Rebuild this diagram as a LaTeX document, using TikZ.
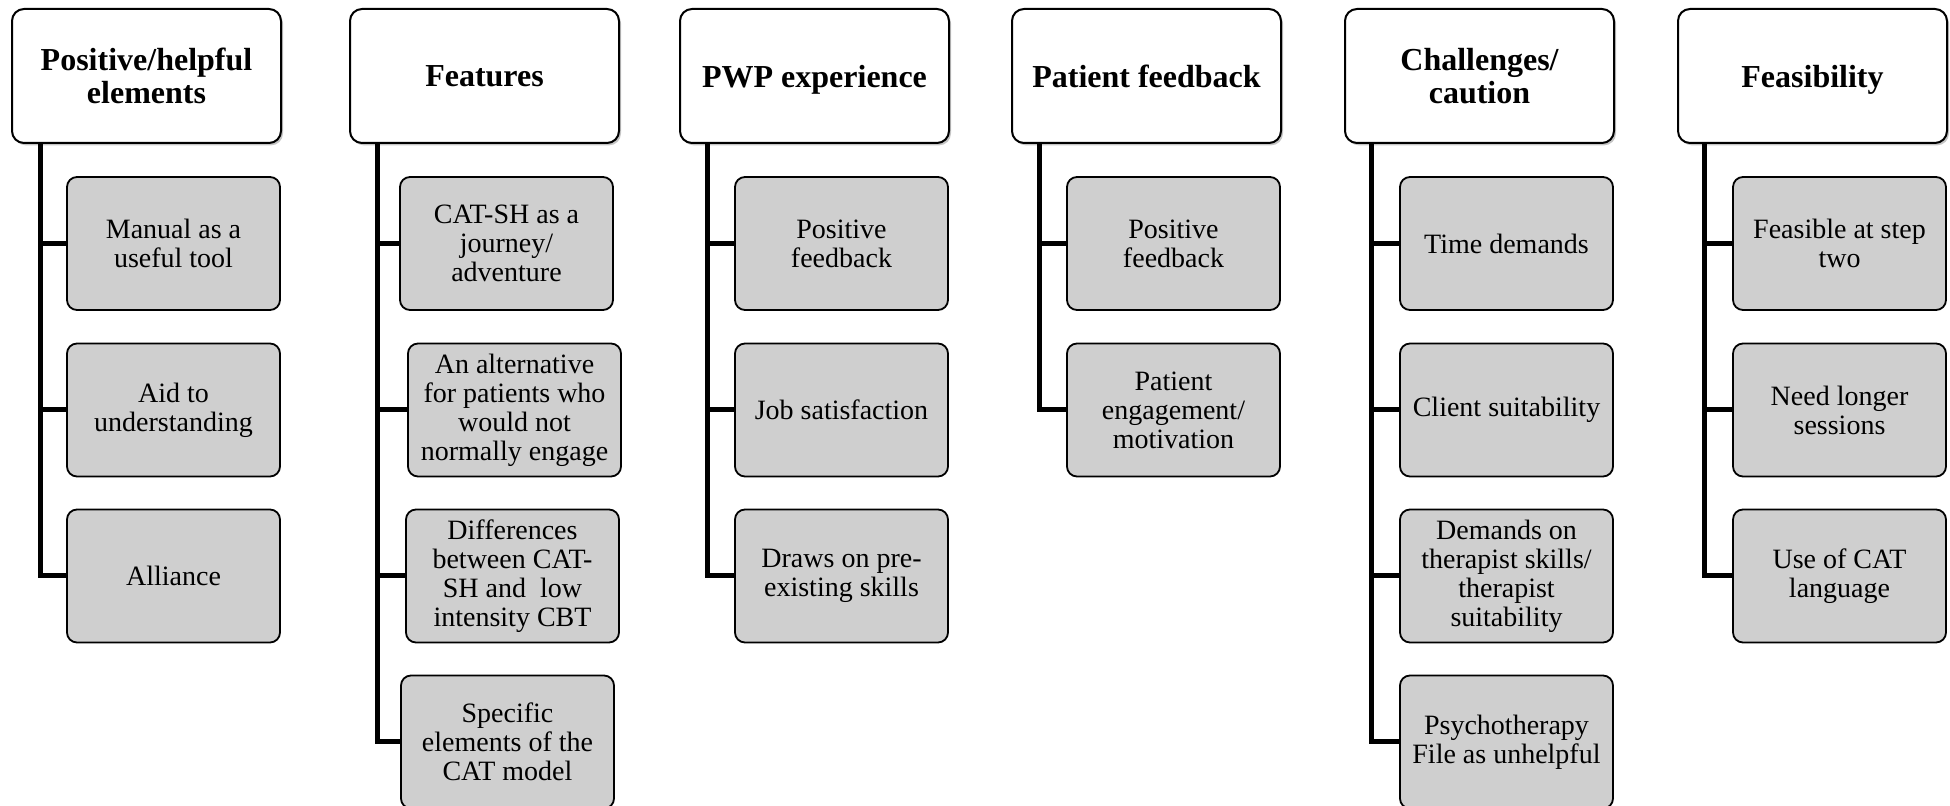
\documentclass[tikz,border=0pt]{standalone}
\usepackage{fontspec}
\setmainfont{Liberation Serif}
\usetikzlibrary{shadows}

\begin{document}
\begin{tikzpicture}[x=0.5pt, y=-0.5pt,
  theme/.style = {draw, fill = white, rounded corners = 6pt, line width = 1pt,
    minimum width = 134.5pt, minimum height = 67pt, align = center,
    font = \fontsize{16}{16.5}\selectfont\bfseries, inner sep = 2pt, text depth = 0pt,
    drop shadow = {shadow xshift = 1pt, shadow yshift = -1.2pt, fill = black!45, opacity = 0.5}},
  subtheme/.style = {draw, fill = black!19, rounded corners = 5pt, line width = 0.9pt,
    minimum width = 106.5pt, minimum height = 66.5pt, align = center,
    font = \fontsize{14}{14.5}\selectfont, inner sep = 1pt},
  trunk/.style = {line width = 2.5pt}]
\useasboundingbox (0,0) rectangle (1950,806);

% column headers
\node (pos) at (146.5,76) [theme] {Positive/helpful\\elements};
\node (feat) at (484.5,76) [theme] {Features};
\node (pwp) at (814.5,76) [theme] {PWP experience};
\node (pat) at (1146.5,76) [theme] {Patient feedback};
\node (chal) at (1479.5,76) [theme] {Challenges/\\caution};
\node (feas) at (1812.5,76) [theme] {Feasibility};

% Positive/helpful elements
\node (pos1) at (173.5,243.5) [subtheme] {Manual as a\\useful tool};
\node (pos2) at (173.5,410) [subtheme] {Aid to\\understanding};
\node (pos3) at (173.5,576) [subtheme] {Alliance};

% Features
\node (feat1) at (506.5,243.5) [subtheme] {CAT-SH as a\\journey/\\adventure};
\node (feat2) at (514.5,410) [subtheme] {An alternative\\for patients who\\would not\\normally engage};
\node (feat3) at (512.5,576) [subtheme] {Differences\\between CAT-\\SH and\ \ low\\intensity CBT};
\node (feat4) at (507.5,742) [subtheme] {Specific\\elements of the\\CAT model};

% PWP experience
\node (pwp1) at (841.5,243.5) [subtheme] {Positive\\feedback};
\node (pwp2) at (841.5,410) [subtheme] {Job satisfaction};
\node (pwp3) at (841.5,576) [subtheme] {Draws on pre-\\existing skills};

% Patient feedback
\node (pat1) at (1173.5,243.5) [subtheme] {Positive\\feedback};
\node (pat2) at (1173.5,410) [subtheme] {Patient\\engagement/\\motivation};

% Challenges/caution
\node (chal1) at (1506.5,243.5) [subtheme] {Time demands};
\node (chal2) at (1506.5,410) [subtheme] {Client suitability};
\node (chal3) at (1506.5,576) [subtheme] {Demands on\\therapist skills/\\therapist\\suitability};
\node (chal4) at (1506.5,742) [subtheme] {Psychotherapy\\File as unhelpful};

% Feasibility
\node (feas1) at (1839.5,243.5) [subtheme] {Feasible at step\\two};
\node (feas2) at (1839.5,410) [subtheme] {Need longer\\sessions};
\node (feas3) at (1839.5,576) [subtheme] {Use of CAT\\language};

% connectors
\draw [trunk] (pos1.west) -| ([xshift=14.5pt]pos.south west);
\draw [trunk] (pos2.west) -| ([xshift=14.5pt]pos.south west);
\draw [trunk] (pos3.west) -| ([xshift=14.5pt]pos.south west);
\draw [trunk] (feat1.west) -| ([xshift=14pt]feat.south west);
\draw [trunk] (feat2.west) -| ([xshift=14pt]feat.south west);
\draw [trunk] (feat3.west) -| ([xshift=14pt]feat.south west);
\draw [trunk] (feat4.west) -| ([xshift=14pt]feat.south west);
\draw [trunk] (pwp1.west) -| ([xshift=14pt]pwp.south west);
\draw [trunk] (pwp2.west) -| ([xshift=14pt]pwp.south west);
\draw [trunk] (pwp3.west) -| ([xshift=14pt]pwp.south west);
\draw [trunk] (pat1.west) -| ([xshift=14pt]pat.south west);
\draw [trunk] (pat2.west) -| ([xshift=14pt]pat.south west);
\draw [trunk] (chal1.west) -| ([xshift=13.5pt]chal.south west);
\draw [trunk] (chal2.west) -| ([xshift=13.5pt]chal.south west);
\draw [trunk] (chal3.west) -| ([xshift=13.5pt]chal.south west);
\draw [trunk] (chal4.west) -| ([xshift=13.5pt]chal.south west);
\draw [trunk] (feas1.west) -| ([xshift=13.5pt]feas.south west);
\draw [trunk] (feas2.west) -| ([xshift=13.5pt]feas.south west);
\draw [trunk] (feas3.west) -| ([xshift=13.5pt]feas.south west);
\end{tikzpicture}
\end{document}
